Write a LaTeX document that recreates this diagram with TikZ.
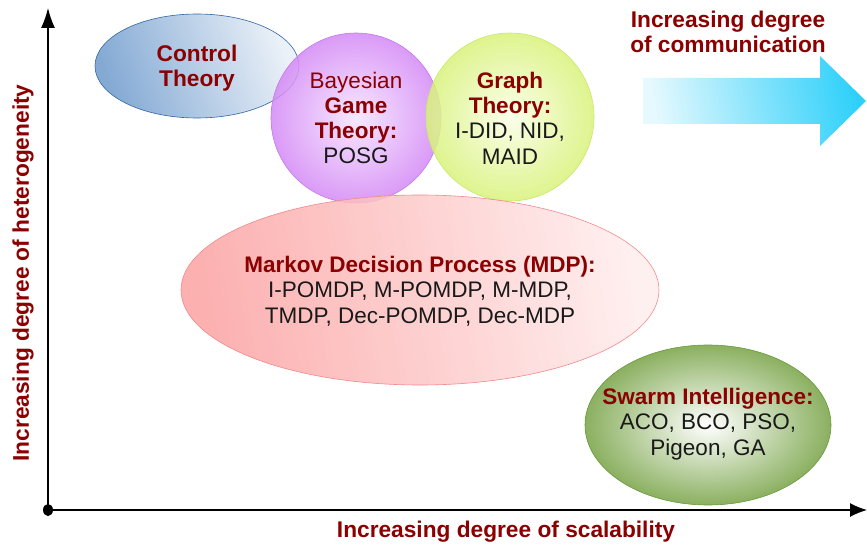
\documentclass[tikz,border=0pt]{standalone}
\usepackage{fontspec}
\setmainfont{Liberation Sans}
\usetikzlibrary{arrows.meta}
\definecolor{dred}{HTML}{8B0000}
\definecolor{ctlA}{HTML}{6F9BCD}
\definecolor{ctlB}{HTML}{E8EFF7}
\definecolor{ctlD}{HTML}{3465A4}
\definecolor{bayA}{HTML}{F5E4FE}
\definecolor{bayB}{HTML}{D489F6}
\definecolor{bayD}{HTML}{C278EC}
\definecolor{grA}{HTML}{FAFEE6}
\definecolor{grB}{HTML}{D8F27A}
\definecolor{grD}{HTML}{C9E86A}
\definecolor{mdA}{HTML}{FCA2A2}
\definecolor{mdB}{HTML}{FFEDED}
\definecolor{mdD}{HTML}{F08A8A}
\definecolor{swA}{HTML}{FFFFFF}
\definecolor{swB}{HTML}{76A244}
\definecolor{swD}{HTML}{6A983A}
\definecolor{arA}{HTML}{E6F9FE}
\definecolor{arB}{HTML}{2ED0FA}
\tikzset{
  axis/.style={line width=1.3pt},
  lbl/.style={text=dred, font=\fontsize{22.7}{25}\selectfont\bfseries, align=center},
  body/.style={font=\fontsize{22.5}{25.3}\selectfont, align=center, text=black!90},
  blob/.style={fill opacity=0.85, line width=0.6pt}
}
\newcommand{\hd}[1]{\textcolor{dred}{\bfseries #1}}
\begin{document}
\begin{tikzpicture}[x=1pt,y=-1pt]
\useasboundingbox (0,0) rectangle (867,548);
% Control theory
\shade[blob, draw=ctlD, left color=ctlA, right color=ctlB, shading angle=110] (197,66) ellipse [x radius=102, y radius=52];
\node[lbl] (ctrl) at (197,68) {Control\\Theory};
% Bayesian
\shade[blob, draw=bayD, inner color=bayA, outer color=bayB] (356,118) circle [radius=85];
\node[body] (bayes) at (356,118) {\textcolor{dred}{Bayesian}\\\hd{Game}\\\hd{Theory:}\\POSG};
% Graph
\shade[blob, draw=grD, inner color=grA, outer color=grB] (510,117) circle [radius=84];
\node[body] (graph) at (510,118) {\hd{Graph}\\\hd{Theory:}\\I-DID, NID,\\MAID};
% MDP
\shade[blob, draw=mdD, left color=mdA, right color=mdB, shading angle=100] (420,290) ellipse [x radius=239, y radius=95];
\node[body] (mdp) at (420,291) {\hd{Markov Decision Process (MDP):}\\I-POMDP, M-POMDP, M-MDP,\\TMDP, Dec-POMDP, Dec-MDP};
% Swarm
\shade[blob, draw=swD, inner color=swA, outer color=swB] (708,425) ellipse [x radius=123, y radius=80];
\node[body] (swarm) at (708,424) {\hd{Swarm Intelligence:}\\ACO, BCO, PSO,\\Pigeon, GA};
% communication arrow
\shade[left color=arA, right color=arB, shading angle=100] (643,78) -- (820,78) -- (820,56) -- (866,101) -- (820,146) -- (820,124) -- (643,124) -- cycle;
\node[lbl] (comm) at (728,32) {Increasing degree\\of communication};
% axes
\coordinate (O) at (48,510);
\coordinate (ytop) at (48,8);
\coordinate (xend) at (867,510);
\draw[axis, -{Latex[length=20pt, width=14pt]}] (O) -- (ytop);
\draw[axis, -{Latex[length=17pt, width=14pt]}] (O) -- (xend);
\fill (O) ellipse [x radius=5, y radius=6];
\node[lbl, rotate=90] (ylab) at (23,273) {Increasing degree of heterogeneity};
\node[lbl] (xlab) at (506,532) {Increasing degree of scalability};
\end{tikzpicture}
\end{document}
